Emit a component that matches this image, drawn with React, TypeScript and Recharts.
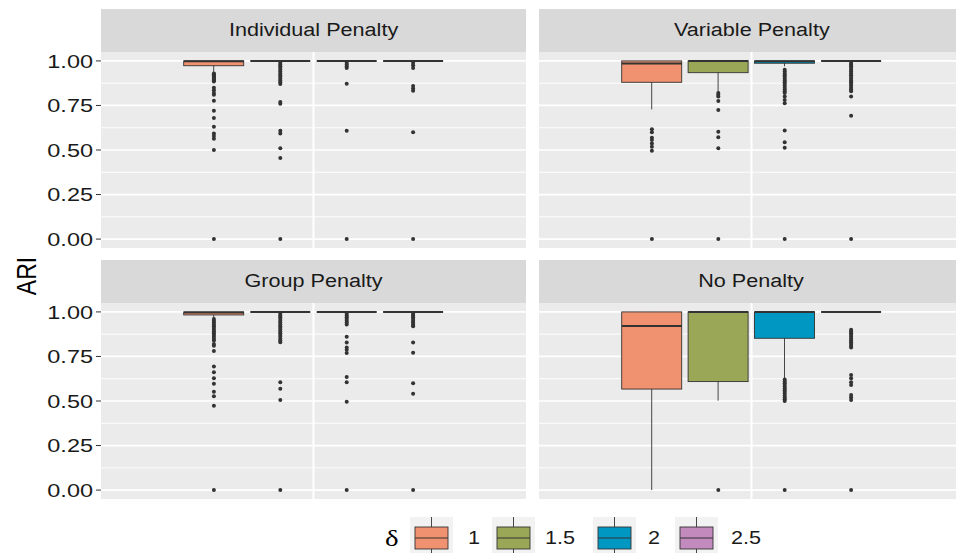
import { Bar, CartesianGrid, ComposedChart, ReferenceLine, Scatter, XAxis, YAxis } from 'recharts'

const DELTAS = ['1', '1.5', '2', '2.5']
const FILLS = ['#F0916F', '#9AA757', '#0097C2', '#C38ABD']
const Y_TICKS = [0, 0.25, 0.5, 0.75, 1]
const Y_MINOR = [0.125, 0.375, 0.625, 0.875]
const Y_DOMAIN = [-0.05, 1.05]

// box stats per delta: [lower whisker, q1, median, q3, upper whisker]
const INDIVIDUAL_BOX = [
  [0.934, 0.973, 0.998, 1, 1],
  [1, 1, 1, 1, 1],
  [1, 1, 1, 1, 1],
  [1, 1, 1, 1, 1],
]
const INDIVIDUAL_OUT = [
  [0.93, 0.925, 0.92, 0.915, 0.91, 0.905, 0.9, 0.895, 0.89, 0.885, 0.85, 0.836, 0.82, 0.81, 0.776, 0.72, 0.68, 0.63, 0.593, 0.578, 0.563, 0.5, 0],
  [0.99, 0.98, 0.97, 0.96, 0.95, 0.94, 0.93, 0.92, 0.91, 0.9, 0.89, 0.88, 0.87, 0.77, 0.76, 0.608, 0.593, 0.51, 0.455, 0],
  [0.99, 0.98, 0.97, 0.96, 0.872, 0.608, 0],
  [0.99, 0.975, 0.96, 0.859, 0.845, 0.833, 0.599, 0],
]

const VARIABLE_BOX = [
  [0.728, 0.88, 0.985, 1, 1],
  [0.827, 0.934, 1, 1, 1],
  [0.97, 0.987, 0.998, 1, 1],
  [1, 1, 1, 1, 1],
]
const VARIABLE_OUT = [
  [0.616, 0.6, 0.569, 0.556, 0.537, 0.518, 0.496, 0],
  [0.82, 0.81, 0.8, 0.775, 0.724, 0.602, 0.571, 0.51, 0],
  [0.95, 0.94, 0.93, 0.92, 0.91, 0.9, 0.89, 0.88, 0.87, 0.86, 0.85, 0.84, 0.83, 0.82, 0.8, 0.78, 0.762, 0.61, 0.544, 0.512, 0],
  [0.99, 0.98, 0.97, 0.96, 0.95, 0.94, 0.93, 0.92, 0.91, 0.9, 0.89, 0.88, 0.87, 0.86, 0.85, 0.84, 0.83, 0.8, 0.692, 0],
]

const GROUP_BOX = [
  [0.96, 0.983, 0.997, 1, 1],
  [1, 1, 1, 1, 1],
  [1, 1, 1, 1, 1],
  [1, 1, 1, 1, 1],
]
const GROUP_OUT = [
  [0.96, 0.95, 0.94, 0.93, 0.92, 0.91, 0.9, 0.89, 0.88, 0.87, 0.86, 0.85, 0.84, 0.82, 0.81, 0.78, 0.693, 0.661, 0.627, 0.597, 0.552, 0.526, 0.474, 0],
  [0.99, 0.98, 0.97, 0.96, 0.95, 0.94, 0.93, 0.92, 0.91, 0.9, 0.89, 0.88, 0.87, 0.86, 0.85, 0.84, 0.83, 0.605, 0.569, 0.506, 0],
  [0.99, 0.98, 0.97, 0.96, 0.95, 0.94, 0.93, 0.861, 0.828, 0.8, 0.787, 0.77, 0.635, 0.605, 0.496, 0],
  [0.99, 0.98, 0.97, 0.96, 0.95, 0.94, 0.93, 0.92, 0.828, 0.771, 0.6, 0.54, 0],
]

const NONE_BOX = [
  [0, 0.567, 0.921, 1, 1],
  [0.502, 0.609, 1, 1, 1],
  [0.627, 0.852, 1, 1, 1],
  [1, 1, 1, 1, 1],
]
const NONE_OUT = [
  [],
  [0],
  [0.62, 0.61, 0.6, 0.59, 0.58, 0.57, 0.56, 0.55, 0.54, 0.53, 0.52, 0.51, 0.5, 0],
  [0.9, 0.89, 0.88, 0.87, 0.86, 0.85, 0.84, 0.83, 0.82, 0.81, 0.8, 0.646, 0.627, 0.605, 0.59, 0.534, 0.52, 0.506, 0],
]

const FONT = '"Liberation Sans", Arial, sans-serif'
const STRETCH = 1.2
const PANEL_W = 425
const PANEL_H = 196
const AXIS_W = 101
const PAD = 79.7
const BOX_W = 60
const DARK = '#333333'

function YTick(props: any) {
  const { x, y, payload } = props
  return (
    <text
      transform={`translate(${x},${y}) scale(1.27,1)`}
      textAnchor="end"
      dy="0.36em"
      fontSize={18.5}
      fontFamily={FONT}
      fill="#1a1a1a"
    >
      {Number(payload.value).toFixed(2)}
    </text>
  )
}

const WhiskerShape = (p: any) =>
  p.height > 0 ? (
    <line x1={p.x + p.width / 2} x2={p.x + p.width / 2} y1={p.y} y2={p.y + p.height} stroke={DARK} strokeWidth={0.9} />
  ) : null

const BoxShape = (p: any) => (
  <rect x={p.x} y={p.y} width={p.width} height={Math.max(p.height, 0)} fill={FILLS[p.index]} stroke={DARK} strokeWidth={0.9} />
)

const MedianShape = (p: any) => (
  <line x1={p.cx - BOX_W / 2} x2={p.cx + BOX_W / 2} y1={p.cy} y2={p.cy} stroke={DARK} strokeWidth={2} />
)

const PointShape = (p: any) => <circle cx={p.cx} cy={p.cy} r={2} fill={DARK} />

function Panel({ box, out, yAxis, xAxis }: { box: number[][]; out: number[][]; yAxis: boolean; xAxis: boolean }) {
  const rows = DELTAS.map((delta, i) => ({ delta, whisker: [box[i][0], box[i][4]], iqr: [box[i][1], box[i][3]] }))
  const medians = DELTAS.map((_, i) => ({ xi: i, y: box[i][2] }))
  const points = out.flatMap((vals, i) => vals.map((y) => ({ xi: i, y })))
  return (
    <ComposedChart
      width={PANEL_W + (yAxis ? AXIS_W : 0)}
      height={PANEL_H + (xAxis ? 6 : 0)}
      data={rows}
      margin={{ top: 0, right: 0, bottom: 0, left: 0 }}
    >
      <CartesianGrid xAxisId="pts" fill="#EBEBEB" fillOpacity={1} stroke="#fff" strokeWidth={0.9} horizontalValues={Y_MINOR} vertical={false} />
      <CartesianGrid xAxisId="pts" stroke="#fff" strokeWidth={1.7} horizontalValues={Y_TICKS} vertical={false} />
      <XAxis xAxisId="w" dataKey="delta" type="category" hide padding={{ left: PAD, right: PAD }} />
      <XAxis xAxisId="b" dataKey="delta" type="category" hide padding={{ left: PAD, right: PAD }} />
      <XAxis
        xAxisId="pts"
        dataKey="xi"
        type="number"
        domain={[-0.5, 3.5]}
        ticks={[1.5]}
        padding={{ left: PAD, right: PAD }}
        hide={!xAxis}
        height={6}
        tick={false}
        tickSize={5}
        axisLine={false}
        tickLine={{ stroke: DARK, strokeWidth: 1 }}
      />
      <YAxis
        type="number"
        domain={Y_DOMAIN}
        ticks={Y_TICKS}
        interval={0}
        hide={!yAxis}
        width={AXIS_W}
        tick={<YTick />}
        tickSize={5}
        tickMargin={3}
        axisLine={false}
        tickLine={{ stroke: DARK, strokeWidth: 1 }}
        allowDataOverflow
      />
      <YAxis yAxisId="s" type="number" dataKey="y" domain={Y_DOMAIN} hide allowDataOverflow />
      <ReferenceLine xAxisId="pts" x={1.5} stroke="#fff" strokeWidth={2} />
      <Bar xAxisId="w" dataKey="whisker" barSize={BOX_W} shape={WhiskerShape} isAnimationActive={false} />
      <Bar xAxisId="b" dataKey="iqr" barSize={BOX_W} shape={BoxShape} isAnimationActive={false} />
      <Scatter xAxisId="pts" yAxisId="s" data={medians} shape={MedianShape} isAnimationActive={false} />
      <Scatter xAxisId="pts" yAxisId="s" data={points} shape={PointShape} isAnimationActive={false} />
    </ComposedChart>
  )
}

function Strip({ label, left, top }: { label: string; left: number; top: number }) {
  return (
    <div
      style={{
        position: 'absolute',
        left,
        top,
        width: PANEL_W,
        height: 43,
        background: '#D9D9D9',
        display: 'flex',
        alignItems: 'center',
        justifyContent: 'center',
      }}
    >
      <span style={{ fontFamily: FONT, fontSize: 18, color: '#1a1a1a', transform: `scaleX(${STRETCH})`, display: 'inline-block' }}>
        {label}
      </span>
    </div>
  )
}

function LegendKey({ color, left }: { color: string; left: number }) {
  return (
    <svg width={43} height={36} style={{ position: 'absolute', left, top: 517 }}>
      <rect x={0} y={0} width={43} height={36} fill="#F2F2F2" />
      <line x1={21.5} x2={21.5} y1={0} y2={36} stroke={DARK} strokeWidth={0.9} />
      <rect x={5} y={10} width={33} height={22} fill={color} stroke={DARK} strokeWidth={0.9} />
      <line x1={5} x2={38} y1={21} y2={21} stroke={DARK} strokeWidth={1.2} />
    </svg>
  )
}

const KEY_LEFT = [410, 492, 593, 675]
const LABEL_LEFT = [468, 545, 648, 731]

export default function App() {
  return (
    <div style={{ position: 'absolute', left: 0, top: 0, width: 956, height: 553, overflow: 'hidden', background: '#fff' }}>
      <Strip label="Individual Penalty" left={101} top={9} />
      <Strip label="Variable Penalty" left={539} top={9} />
      <Strip label="Group Penalty" left={101} top={260} />
      <Strip label="No Penalty" left={539} top={260} />
      <div style={{ position: 'absolute', left: 0, top: 52 }}>
        <Panel box={INDIVIDUAL_BOX} out={INDIVIDUAL_OUT} yAxis xAxis={false} />
      </div>
      <div style={{ position: 'absolute', left: 539, top: 52 }}>
        <Panel box={VARIABLE_BOX} out={VARIABLE_OUT} yAxis={false} xAxis={false} />
      </div>
      <div style={{ position: 'absolute', left: 0, top: 303 }}>
        <Panel box={GROUP_BOX} out={GROUP_OUT} yAxis xAxis />
      </div>
      <div style={{ position: 'absolute', left: 539, top: 303 }}>
        <Panel box={NONE_BOX} out={NONE_OUT} yAxis={false} xAxis />
      </div>
      <div
        style={{
          position: 'absolute',
          left: 27,
          top: 276,
          fontFamily: FONT,
          fontSize: 23,
          color: '#000',
          lineHeight: 1,
          transform: `translate(-50%, -50%) rotate(-90deg) scaleY(${STRETCH})`,
        }}
      >
        ARI
      </div>
      <div
        style={{
          position: 'absolute',
          left: 385,
          top: 538,
          fontFamily: '"Liberation Serif", serif',
          fontSize: 24,
          lineHeight: 1,
          transform: `translateY(-50%) scaleX(${STRETCH})`,
          transformOrigin: 'left center',
        }}
      >
        δ
      </div>
      {DELTAS.map((d, i) => (
        <LegendKey key={d} color={FILLS[i]} left={KEY_LEFT[i]} />
      ))}
      {DELTAS.map((d, i) => (
        <div
          key={d}
          style={{
            position: 'absolute',
            left: LABEL_LEFT[i],
            top: 538,
            fontFamily: FONT,
            fontSize: 18,
            lineHeight: 1,
            color: '#1a1a1a',
            transform: `translateY(-50%) scaleX(${STRETCH})`,
            transformOrigin: 'left center',
          }}
        >
          {d}
        </div>
      ))}
    </div>
  )
}
